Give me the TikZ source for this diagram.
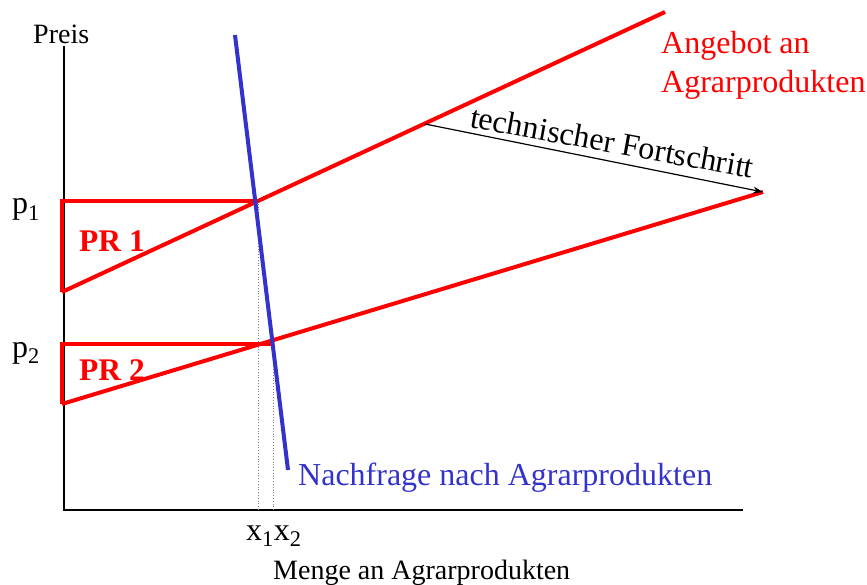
\documentclass[tikz,border=0pt]{standalone}
\usepackage{fontspec}
\setmainfont{Liberation Serif}
\usetikzlibrary{arrows.meta}
\definecolor{supred}{RGB}{255,0,0}
\definecolor{demblue}{RGB}{51,51,204}
\tikzset{
  big/.style={font=\fontsize{32}{36}\selectfont, inner sep=0pt},
  mid/.style={font=\fontsize{28}{32}\selectfont, inner sep=0pt},
  axisline/.style={black, line width=1.4pt},
  supply/.style={supred, line width=4pt},
  demand/.style={demblue, line width=4pt},
  guide/.style={gray, line width=0.8pt, dotted},
  shiftarrow/.style={black, line width=1.2pt, -{Stealth[length=10pt,width=7pt]}},
}
\begin{document}
\begin{tikzpicture}[x=1pt,y=-1pt]
\useasboundingbox (0,0) rectangle (867,585);
% axes
\coordinate (ytop) at (64,46);
\coordinate (orig) at (64,510);
\coordinate (xend) at (743,510);
\draw[axisline] (ytop) -- (orig) -- (xend);
% key points
\coordinate (s1a) at (62,292);
\coordinate (s1b) at (665,12);
\coordinate (s2a) at (62,404);
\coordinate (s2b) at (763,192);
\coordinate (e1) at (258,201);
\coordinate (e2) at (273,344);
\coordinate (p1) at (62,201);
\coordinate (p2) at (62,344);
\coordinate (x1) at (258,510);
\coordinate (x2) at (273,510);
\coordinate (dtop) at (235,35);
\coordinate (dbot) at (288,470);
\coordinate (arrstart) at (425,124);
% guides
\draw[guide] (e1) -- (x1);
\draw[guide] (e2) -- (x2);
% producer rent areas
\draw[supply, line join=miter] (s1a) -- (p1) -- (e1);
\draw[supply, line join=miter] (s2a) -- (p2) -- (e2);
% supply curves
\draw[supply] (s1a) -- (s1b);
\draw[supply] (s2a) -- (s2b);
% demand
\draw[demand] (dtop) -- (dbot);
% shift arrow
\draw[shiftarrow] (arrstart) -- (s2b);
% labels
\node[mid, anchor=base west] (preis) at (33,44) {Preis};
\node[big, anchor=base west] (lp1) at (12,214) {p\textsubscript{1}};
\node[big, anchor=base west] (lp2) at (12,357) {p\textsubscript{2}};
\node[big, anchor=base west, supred, font=\fontsize{31.5}{36}\selectfont\bfseries] (pr1) at (79,252) {PR 1};
\node[big, anchor=base west, supred, font=\fontsize{31.5}{36}\selectfont\bfseries] (pr2) at (79,380) {PR 2};
\node[big, anchor=base west] (lx) at (246,540) {x\textsubscript{1}x\textsubscript{2}};
\node[mid, anchor=base west] (menge) at (273,579) {Menge an Agrarprodukten};
\node[big, anchor=base west, demblue] (nach) at (298,485) {Nachfrage nach Agrarprodukten};
\node[big, anchor=base west, supred] (ang1) at (661,54) {Angebot an};
\node[big, anchor=base west, supred] (ang2) at (661,93) {Agrarprodukten};
\node[big, anchor=base west, rotate=-10.3] (tech) at (469,127) {technischer Fortschritt};
\end{tikzpicture}
\end{document}
